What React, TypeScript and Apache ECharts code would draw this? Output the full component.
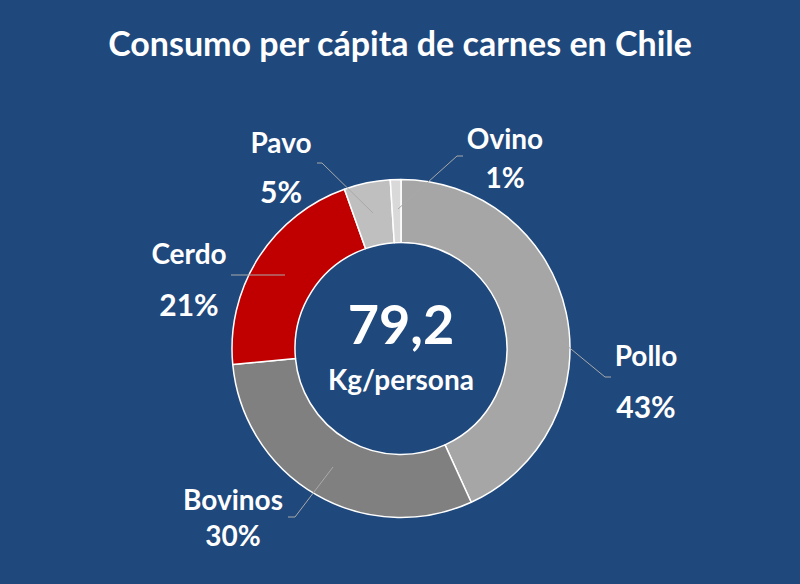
import React, { useEffect, useRef } from "react";
import * as echarts from "echarts";

const titleText = "Consumo per cápita de carnes en Chile";
const categories = ["Pollo", "Bovinos", "Cerdo", "Pavo", "Ovino"];
const values = [34.2, 24.0, 16.7, 3.5, 0.8];
const percentLabels = ["43%", "30%", "21%", "5%", "1%"];
const totalLabel = "79,2";
const unitLabel = "Kg/persona";

const colors = ["#A6A6A6", "#808080", "#C00000", "#BFBFBF", "#D9D9D9"];
const BG = "#1F487C";
const FONT = "Lato, 'Open Sans', sans-serif";

// label layout (positions of label blocks and leader lines)
const labelPos: number[][] = [
  [646, 380.5],
  [233, 517],
  [189, 278.5],
  [281, 166.5],
  [505, 157.5],
];
const labelLineH = [51, 36, 51, 49, 39];
const nameSize = [28, 28, 28, 28, 28];
const pctSize = [30, 28, 30, 30, 28];
const leaderPts: number[][][] = [
  [[560, 340], [605, 377], [611, 377]],
  [[333, 467], [295, 517], [288, 517]],
  [[285, 275], [258, 275], [231, 275]],
  [[373, 213], [322, 163], [317, 163]],
  [[398, 209], [457, 156], [463, 156]],
];

export default function App() {
  const ref = useRef<HTMLDivElement>(null);
  useEffect(() => {
    document.body.style.margin = "0";
    if (!ref.current) return;
    const chart = echarts.init(ref.current, null, { renderer: "svg" });
    const data = categories.map((name, i) => ({
      name,
      value: values[i],
      itemStyle: { color: colors[i] },
      label: {
        rich: {
          n: {
            fontSize: nameSize[i],
            fontWeight: "bold",
            color: "#FFFFFF",
            fontFamily: FONT,
            lineHeight: labelLineH[i],
            align: "center",
          },
          p: {
            fontSize: pctSize[i],
            fontWeight: "bold",
            color: "#FFFFFF",
            fontFamily: FONT,
            lineHeight: labelLineH[i],
            align: "center",
          },
        },
      },
    }));
    const leaderLines = leaderPts.map((pts) => ({
      type: "polyline",
      z: 100,
      silent: true,
      shape: { points: pts },
      style: { stroke: "#A9A9A9", lineWidth: 1, fill: null },
    }));
    chart.setOption({
      animation: false,
      backgroundColor: BG,
      title: {
        text: titleText,
        left: "center",
        top: 20,
        textStyle: {
          color: "#FFFFFF",
          fontSize: 34,
          fontWeight: "bold",
          fontFamily: FONT,
        },
      },
      graphic: [
        ...leaderLines,
        {
          type: "text",
          x: 401,
          y: 323,
          style: {
            text: totalLabel,
            fill: "#FFFFFF",
            fontSize: 54,
            fontWeight: "bold",
            fontFamily: FONT,
            align: "center",
            verticalAlign: "middle",
          },
        },
        {
          type: "text",
          x: 401,
          y: 379,
          style: {
            text: unitLabel,
            fill: "#FFFFFF",
            fontSize: 28,
            fontWeight: "bold",
            fontFamily: FONT,
            align: "center",
            verticalAlign: "middle",
          },
        },
      ],
      series: [
        {
          type: "pie",
          center: [401, 348.5],
          radius: [106, 169],
          startAngle: 90,
          clockwise: true,
          avoidLabelOverlap: false,
          silent: true,
          itemStyle: { borderColor: "#FFFFFF", borderWidth: 1.5 },
          label: {
            show: true,
            position: "outside",
            formatter: (p: any) =>
              `{n|${p.name}}\n{p|${percentLabels[p.dataIndex]}}`,
          },
          labelLine: { show: false },
          labelLayout: (params: any) => {
            const i = params.dataIndex;
            return {
              x: labelPos[i][0],
              y: labelPos[i][1],
              align: "center",
              verticalAlign: "middle",
            };
          },
          data,
        },
      ],
    });
    return () => chart.dispose();
  }, []);
  return <div ref={ref} style={{ width: 800, height: 584 }} />;
}
